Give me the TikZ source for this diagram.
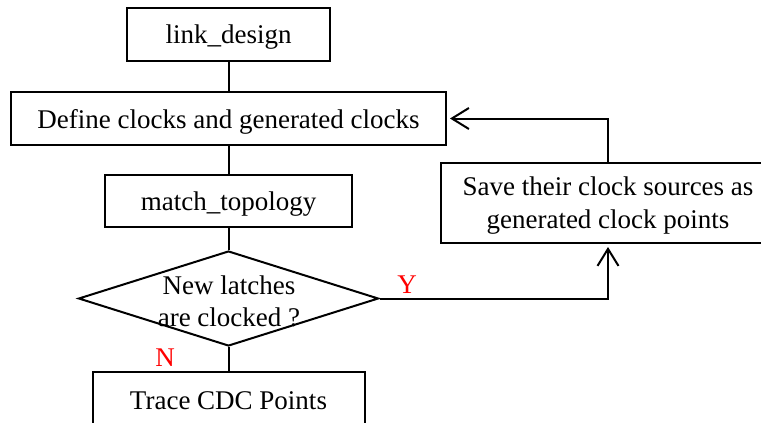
\documentclass[tikz,border=0pt]{standalone}
\usepackage{fontspec}
\setmainfont{Liberation Serif}
\usetikzlibrary{shapes.geometric,arrows.meta}

\tikzset{
  flowline/.style={line width=2pt, draw=black},
  procbox/.style={rectangle, draw=black, line width=2pt, inner sep=0pt,
    font=\fontsize{27}{33}\selectfont, align=center, fill=white, text depth=0pt},
  decbox/.style={diamond, draw=black, line width=2pt, inner sep=0pt,
    minimum width=300pt, minimum height=95pt, shape aspect=3.158},
  txt/.style={font=\fontsize{27}{32}\selectfont, align=center, inner sep=0pt},
  branch/.style={font=\fontsize{27}{30}\selectfont, text=red, inner sep=0pt},
  barb/.style={-{Straight Barb[length=17pt,width=21pt]}}
}

\begin{document}
\begin{tikzpicture}[x=1pt,y=-1pt]
  \useasboundingbox (0,0) rectangle (761,423);
  \clip (0,0) rectangle (761,423);

  % process boxes
  \node[procbox, minimum width=203pt, minimum height=53pt] (link) at (228.5,34.5) {link\_design};
  \node[procbox, minimum width=435pt, minimum height=53pt] (def) at (228.5,118.5) {Define clocks and generated clocks};
  \node[procbox, minimum width=247pt, minimum height=52pt] (match) at (228.5,201) {match\_topology};
  \node[procbox, minimum width=272pt, minimum height=58pt] (trace) at (228.5,401) {Trace CDC Points};
  \node[procbox, minimum width=334pt, minimum height=80pt] (save) at (608,203)
    {Save their clock sources as\\generated clock points};

  % decision
  \node[decbox] (dec) at (228.5,298.5) {};
  \node[txt] (dectext) at (229,301) {New latches\\are clocked ?};

  % main flow
  \draw[flowline] (link.south) -- (def.north);
  \draw[flowline] (def.south) -- (match.north);
  \draw[flowline] (match.south) -- (dec.north);
  \draw[flowline] (dec.south) -- (trace.north);

  % yes branch and feedback loop
  \draw[flowline, barb] (dec.east) -| ([yshift=-3pt]save.south);
  \draw[flowline, barb] (save.north) |- ([xshift=3pt]def.east);

  % branch labels
  \node[branch] (ylabel) at (407,285) {Y};
  \node[branch] (nlabel) at (165,358) {N};
\end{tikzpicture}
\end{document}
